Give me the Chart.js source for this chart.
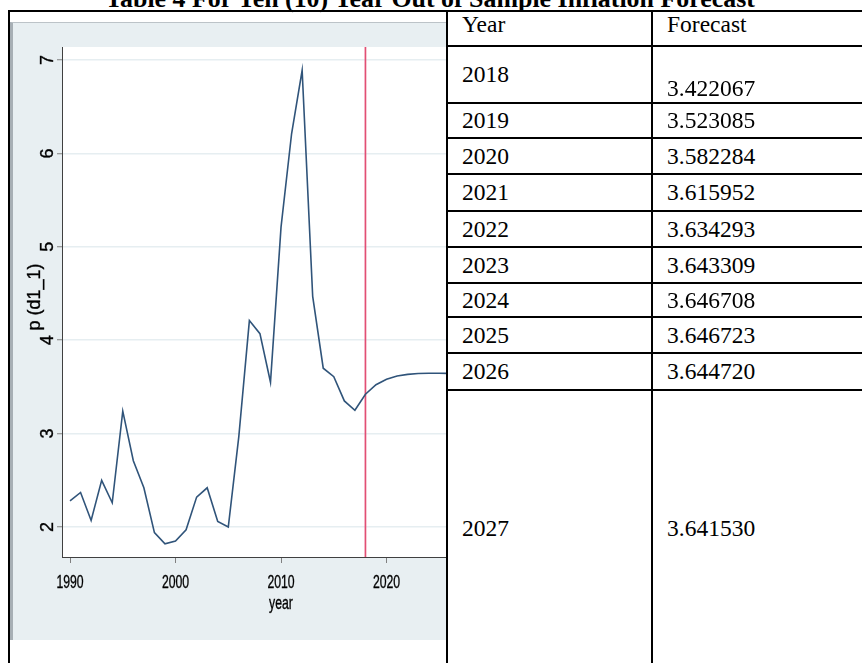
<!DOCTYPE html>
<html lang="en">
<head>
<meta charset="utf-8">
<title>Inflation forecast</title>
<script src="https://cdn.jsdelivr.net/npm/chart.js@4.4.1/dist/chart.umd.min.js"></script>
<style>
  body { margin:0; width:862px; height:663px; overflow:hidden; position:relative; background:#fff;
         font-family:"Liberation Serif","Times New Roman",serif; color:#000; }
  #titulo { position:absolute; left:0; width:860px; top:-13.6px; text-align:center; font-weight:bold;
            font-size:25.9px; line-height:25.9px; white-space:nowrap; }
  .linha { position:absolute; background:#000; }
  .cel { position:absolute; font-size:23.5px; line-height:23.5px; white-space:nowrap; }
  #grafico-box { position:absolute; left:10px; top:22px; width:434px; height:617px; background:#e8eff2;
                 border-left:3px solid #a7afb5; border-top:1px solid #bcc3c8; }
  #grafico-box canvas { display:block; }
</style>
</head>
<body>
<div id="titulo">Table 4 For Ten (10) Year Out of Sample Inflation Forecast</div>
<div id="grafico-box"><canvas id="grafico" width="434" height="617"></canvas></div>
<div id="tabela"></div>

<script>
const anosHist = [1990, 1991, 1992, 1993, 1994, 1995, 1996, 1997, 1998, 1999,
                  2000, 2001, 2002, 2003, 2004, 2005, 2006, 2007, 2008, 2009,
                  2010, 2011, 2012, 2013, 2014, 2015, 2016, 2017];
const valoresHist = [2.28, 2.37, 2.07, 2.50, 2.26, 3.24, 2.71, 2.42, 1.94, 1.82,
                     1.85, 1.97, 2.32, 2.42, 2.06, 2.00, 2.97, 4.21, 4.07, 3.55,
                     5.21, 6.21, 6.89, 4.47, 3.70, 3.61, 3.35, 3.25];

// previsao fora da amostra (tabela)
const anosPrev = [2018, 2019, 2020, 2021, 2022, 2023, 2024, 2025, 2026, 2027];
const valoresPrev = [3.422067, 3.523085, 3.582284, 3.615952, 3.634293,
                     3.643309, 3.646708, 3.646723, 3.644720, 3.641530];

const xTicks = [1990, 2000, 2010, 2020];
const yTicks = [2, 3, 4, 5, 6, 7];
const inicioPrevisao = 2018;
const tituloX = "year";
const tituloY = "p (d1_1)";
const cabecalho = ["Year", "Forecast"];

// ---------- tabela ----------
const tabela = document.getElementById("tabela");
function linha(left, top, w, h) {
  const d = document.createElement("div");
  d.className = "linha";
  d.style.cssText = `left:${left}px;top:${top}px;width:${w}px;height:${h}px`;
  tabela.appendChild(d);
}
function texto(t, left, base) {
  const d = document.createElement("div");
  d.className = "cel";
  d.textContent = t;
  d.style.left = left + "px";
  d.style.top = (base - 19.7) + "px";
  tabela.appendChild(d);
}

const colX = [462, 667];
const fronteiras = [46, 103, 138, 174, 211, 247, 283, 317, 353, 390, 667];

linha(8, 10, 854, 2);
linha(8, 10, 2, 653);
linha(446, 10, 2, 653);
linha(651, 10, 2, 653);
fronteiras.slice(0, -1).forEach(y => linha(446, y - 1, 416, 2));

texto(cabecalho[0], colX[0], 33);
texto(cabecalho[1], colX[1], 33);
anosPrev.forEach((ano, i) => {
  const topo = fronteiras[i], fundo = fronteiras[i + 1];
  const base = (topo + fundo) / 2 + 8.5;
  texto(String(ano), colX[0], base);
  texto(valoresPrev[i].toFixed(6), colX[1], i === 0 ? fundo - 6 : base);
});

// ---------- grafico ----------
const pontos = anosHist.map((a, i) => ({ x: a, y: valoresHist[i] }))
  .concat(anosPrev.map((a, i) => ({ x: a, y: valoresPrev[i] })));

const fundoPlot = {
  id: "fundoPlot",
  beforeDraw(chart) {
    const { ctx, chartArea: a } = chart;
    ctx.save();
    ctx.fillStyle = "#ffffff";
    ctx.fillRect(a.left, a.top, a.right - a.left, a.bottom - a.top);
    ctx.restore();
  },
  beforeDatasetsDraw(chart) {
    const { ctx, chartArea: a, scales: { x } } = chart;
    const px = x.getPixelForValue(inicioPrevisao);
    ctx.save();
    ctx.strokeStyle = "#e24f74";
    ctx.lineWidth = 1.7;
    ctx.beginPath();
    ctx.moveTo(px, a.top);
    ctx.lineTo(px, a.bottom);
    ctx.stroke();
    ctx.restore();
  }
};

const textosEixos = {
  id: "textosEixos",
  afterDraw(chart) {
    const { ctx, scales: { x, y } } = chart;
    ctx.save();
    ctx.fillStyle = "#000";
    ctx.strokeStyle = "#000";
    ctx.lineWidth = 0.35;
    ctx.font = '18px "Liberation Sans", Arial, sans-serif';
    ctx.textAlign = "center";
    ctx.textBaseline = "alphabetic";

    // rotulos do eixo x (estreitos como no original)
    xTicks.forEach(v => {
      ctx.save();
      ctx.translate(x.getPixelForValue(v), 565);
      ctx.scale(0.68, 1);
      ctx.fillText(String(v), 0, 0);
      ctx.strokeText(String(v), 0, 0);
      ctx.restore();
    });
    ctx.save();
    ctx.translate(268, 586);
    ctx.scale(0.68, 1);
    ctx.fillText(tituloX, 0, 0);
    ctx.strokeText(tituloX, 0, 0);
    ctx.restore();

    // rotulos do eixo y, girados
    yTicks.forEach(v => {
      ctx.save();
      ctx.translate(40, y.getPixelForValue(v));
      ctx.rotate(-Math.PI / 2);
      ctx.fillText(String(v), 0, 0);
      ctx.strokeText(String(v), 0, 0);
      ctx.restore();
    });
    ctx.translate(27, 274);
    ctx.rotate(-Math.PI / 2);
    ctx.fillText(tituloY, 0, 0);
    ctx.strokeText(tituloY, 0, 0);
    ctx.restore();
  }
};

new Chart(document.getElementById("grafico"), {
  type: "line",
  data: {
    datasets: [{
      data: pontos,
      borderColor: "#30547a",
      borderWidth: 1.6,
      pointRadius: 0,
      tension: 0,
      fill: false
    }]
  },
  options: {
    responsive: false,
    animation: false,
    layout: { padding: { top: 24, right: 0, bottom: 0, left: 0 } },
    plugins: { legend: { display: false }, tooltip: { enabled: false } },
    scales: {
      x: {
        type: "linear",
        min: 1989.24,
        max: 2025.73,
        afterBuildTicks: s => { s.ticks = xTicks.map(v => ({ value: v })); },
        afterFit: s => { s.height = 83; },
        ticks: { display: false },
        grid: { drawOnChartArea: false, drawTicks: true, tickLength: 6, tickColor: "#808080", tickWidth: 1 },
        border: { color: "#404040", width: 1 }
      },
      y: {
        min: 1.679,
        max: 7.139,
        afterBuildTicks: s => { s.ticks = yTicks.map(v => ({ value: v })); },
        afterFit: s => { s.width = 49; },
        ticks: { display: false },
        grid: { color: "#e6eef1", lineWidth: 1.5, drawTicks: true, tickLength: 5, tickColor: "#808080", tickWidth: 1 },
        border: { color: "#404040", width: 1 }
      }
    }
  },
  plugins: [fundoPlot, textosEixos]
});
</script>
</body>
</html>
